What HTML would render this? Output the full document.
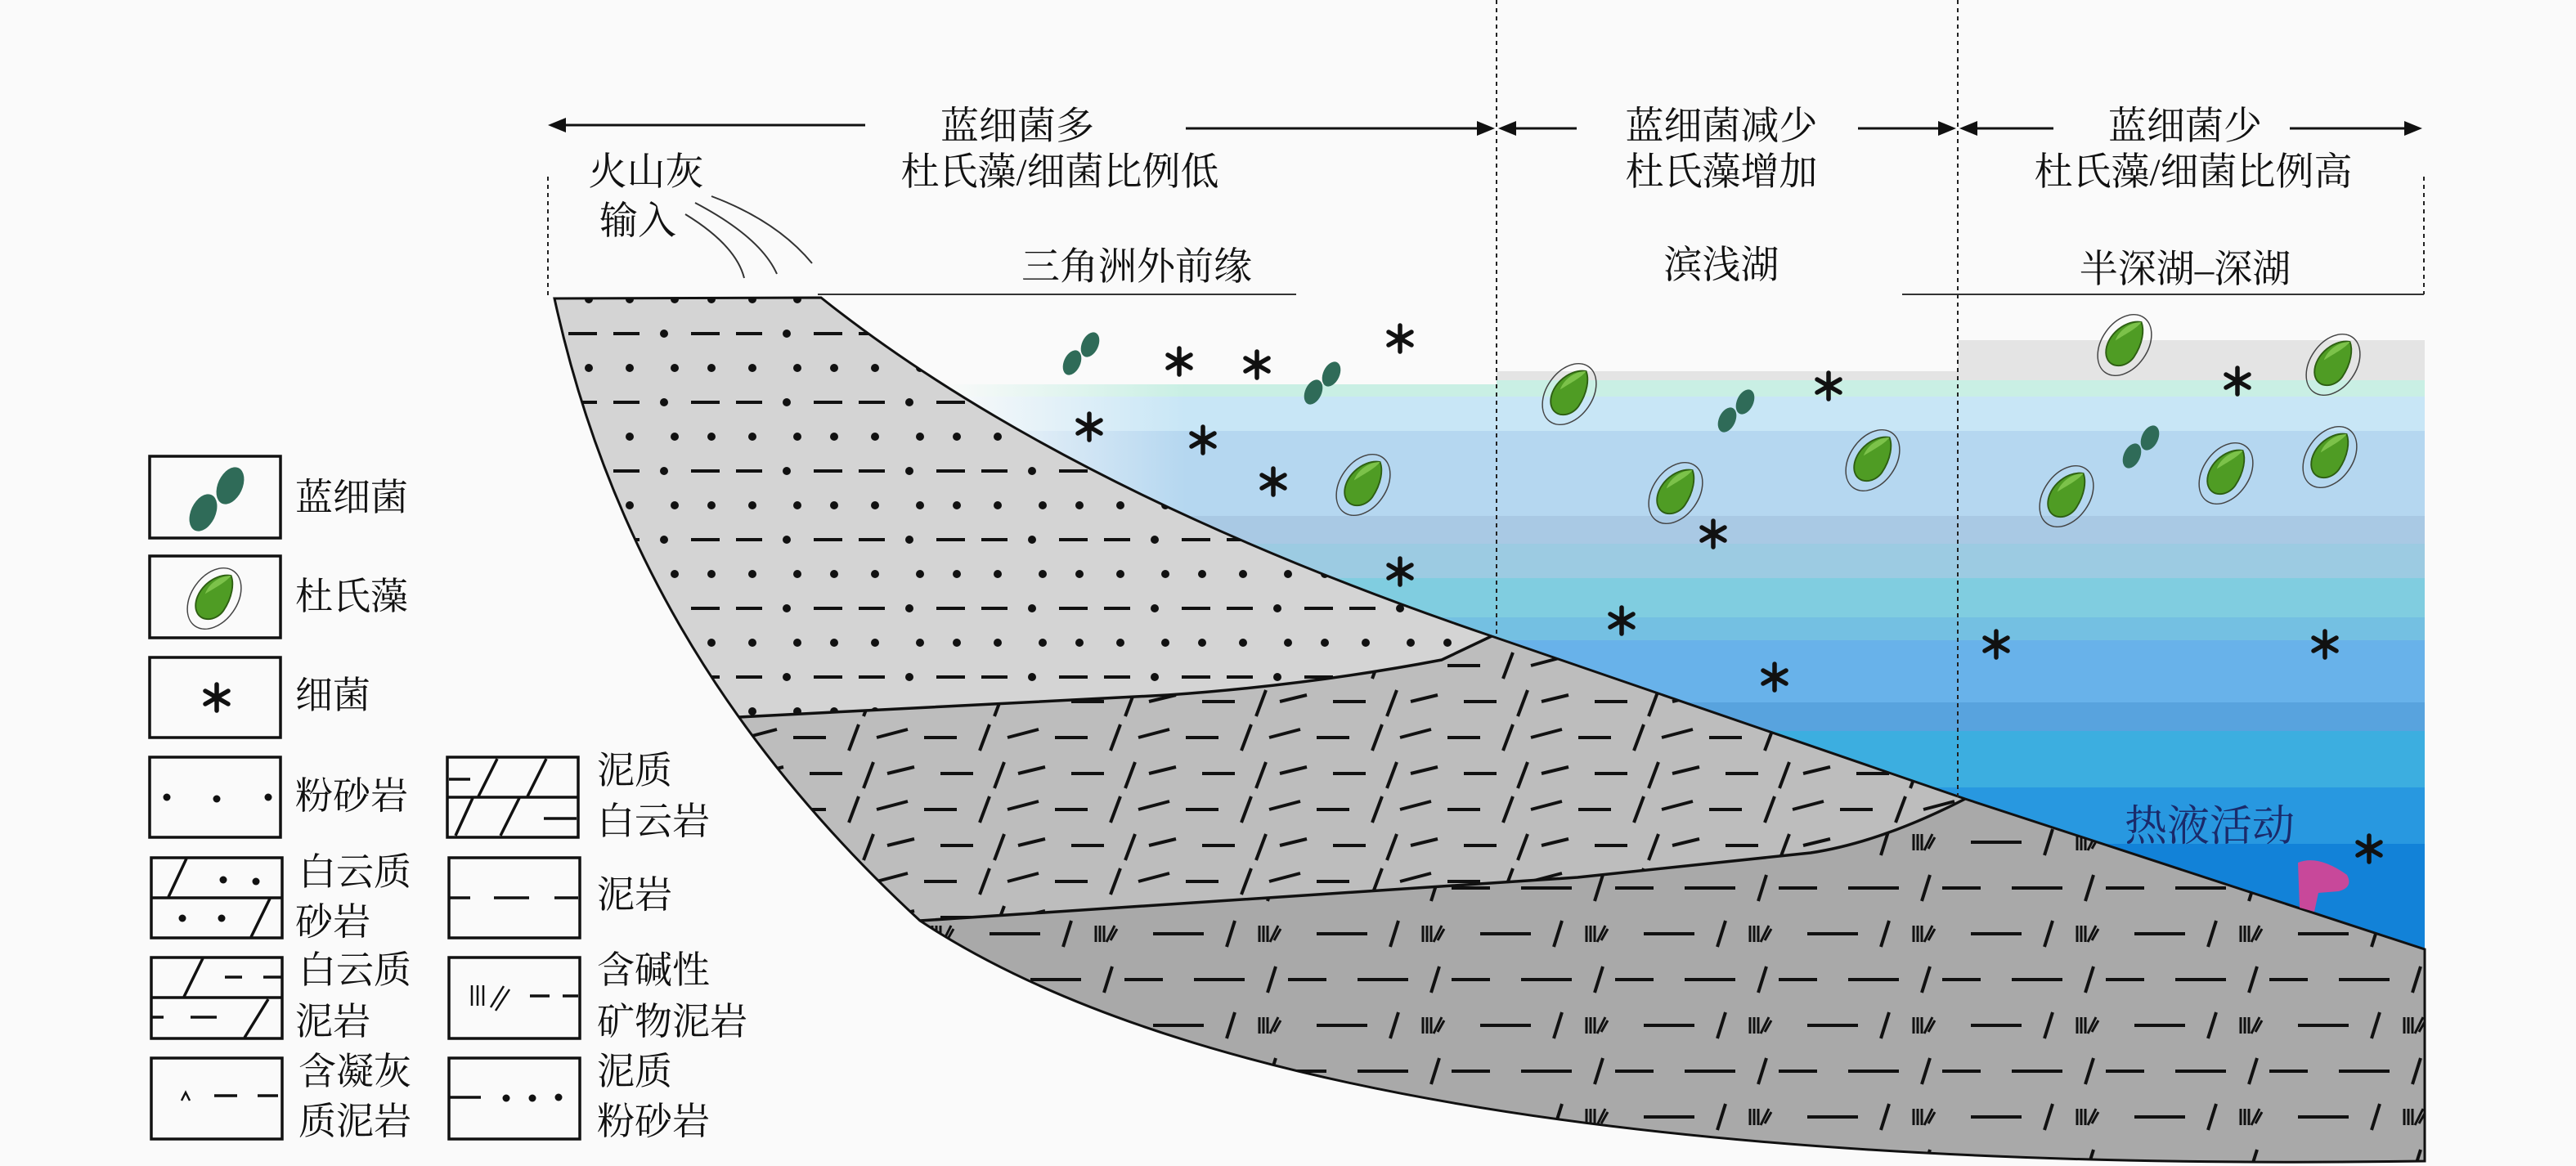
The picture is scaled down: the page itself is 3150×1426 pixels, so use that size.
<!DOCTYPE html>
<html><head><meta charset="utf-8"><style>
html,body{margin:0;padding:0;background:#fafafa;width:3150px;height:1426px;overflow:hidden;}
svg{display:block;}
text{font-family:"Liberation Serif","Noto Serif CJK SC","Noto Sans CJK SC",serif;fill:#111;}
</style></head><body>
<svg width="3150" height="1426" viewBox="0 0 3150 1426" xmlns="http://www.w3.org/2000/svg">
<defs>
<clipPath id="wedge"><path d="M678,365 L1004,364 Q1300,600 1824,778 L2403,977 L2965,1161 L2965,1420 Q1600,1440 1125,1126 C880,900 740,650 678,365 Z"/></clipPath>
<clipPath id="water"><path d="M1004,364 L2965,364 L2965,1161 L2403,977 L1824,778 Q1300,600 1004,364 Z"/></clipPath>
<linearGradient id="fade" x1="0" x2="1" y1="0" y2="0">
<stop offset="0" stop-color="#fafafa" stop-opacity="1"/><stop offset="1" stop-color="#fafafa" stop-opacity="0"/></linearGradient>
<pattern id="p1" patternUnits="userSpaceOnUse" width="150" height="84" x="0" y="10">
<g stroke="#111" stroke-width="4" fill="#111">
<circle cx="20" cy="20" r="5" stroke="none"/><circle cx="75" cy="20" r="5" stroke="none"/>
<circle cx="120" cy="20" r="5" stroke="none"/>
<line x1="0" y1="62" x2="32" y2="62"/><circle cx="62" cy="62" r="5" stroke="none"/>
<line x1="95" y1="62" x2="130" y2="62"/>
</g></pattern>
<pattern id="p2" patternUnits="userSpaceOnUse" width="160" height="88" x="0" y="0">
<g stroke="#111" stroke-width="4">
<line x1="10" y1="22" x2="50" y2="22"/><line x1="78" y1="38" x2="90" y2="6"/>
<line x1="112" y1="22" x2="150" y2="12"/>
<line x1="30" y1="66" x2="70" y2="66"/><line x1="96" y1="84" x2="108" y2="52"/>
<line x1="125" y1="66" x2="158" y2="58"/>
</g></pattern>
<pattern id="p3" patternUnits="userSpaceOnUse" width="200" height="112" x="0" y="0">
<g stroke="#111" stroke-width="4">
<line x1="10" y1="22" x2="72" y2="22"/><line x1="100" y1="38" x2="110" y2="6"/>
<g stroke-width="3"><line x1="140" y1="12" x2="140" y2="32"/><line x1="145" y1="12" x2="145" y2="32"/><line x1="150" y1="12" x2="150" y2="32"/>
<line x1="153" y1="32" x2="163" y2="12"/><line x1="158" y1="30" x2="166" y2="16"/></g>
<line x1="60" y1="78" x2="122" y2="78"/><line x1="150" y1="94" x2="160" y2="62"/>
<line x1="0" y1="78" x2="22" y2="78"/><line x1="175" y1="78" x2="200" y2="78"/>
</g></pattern>
<symbol id="dun" viewBox="-45 -50 90 100" overflow="visible">
<ellipse cx="0" cy="0" rx="30" ry="44" transform="rotate(35)" fill="none" stroke="#444" stroke-width="1.6"/>
<path d="M22,-30 C-2,-34 -28,-8 -24,14 C-20,32 2,30 12,16 C24,-2 26,-20 22,-30 Z" fill="#4f9c24" stroke="#2d5e12" stroke-width="2"/>
<path d="M22,-30 C6,-30 -8,-18 -12,-6 C4,-16 16,-22 22,-30 Z" fill="#7cc24a"/>
</symbol>
<symbol id="cya" viewBox="-30 -30 60 60" overflow="visible">
<ellipse cx="-11" cy="11" rx="10" ry="16" transform="rotate(25 -11 11)" fill="#2f6b58"/>
<ellipse cx="11" cy="-11" rx="10" ry="16" transform="rotate(25 11 -11)" fill="#2f6b58"/>
</symbol>
<symbol id="ast" viewBox="-20 -20 40 40" overflow="visible">
<g stroke="#111" stroke-width="5.5" stroke-linecap="round">
<line x1="0" y1="-16" x2="0" y2="16"/><line x1="-14" y1="-8" x2="14" y2="8"/><line x1="-14" y1="8" x2="14" y2="-8"/>
</g></symbol>
</defs>

<!-- water bands -->
<g clip-path="url(#water)">
<rect x="1150" y="416" width="1815" height="50" fill="#e4e4e4"/>
<rect x="1150" y="465" width="1815" height="21" fill="#c9efe4"/>
<rect x="1150" y="485" width="1815" height="43" fill="#c8e6f6"/>
<rect x="1150" y="527" width="1815" height="105" fill="#b5d7f0"/>
<rect x="1150" y="631" width="1815" height="35" fill="#a9c9e4"/>
<rect x="1150" y="665" width="1815" height="43" fill="#9ccbe2"/>
<rect x="1150" y="707" width="1815" height="49" fill="#80cde0"/>
<rect x="1150" y="755" width="1815" height="29" fill="#74c0e2"/>
<rect x="1150" y="783" width="1815" height="77" fill="#68b2ea"/>
<rect x="1150" y="859" width="1815" height="36" fill="#58a3de"/>
<rect x="1150" y="894" width="1815" height="70" fill="#3caee0"/>
<rect x="1150" y="963" width="1815" height="70" fill="#2898e0"/>
<rect x="1150" y="1032" width="1815" height="132" fill="#1282d8"/>
<rect x="1150" y="400" width="680" height="70" fill="#fafafa"/>
<rect x="1830" y="400" width="564" height="54" fill="#fafafa"/>
<rect x="1150" y="400" width="300" height="500" fill="url(#fade)"/>
</g>

<!-- wedge layers -->
<g clip-path="url(#wedge)">
<rect x="600" y="300" width="2400" height="1200" fill="#a9a9a9"/>
<rect x="600" y="300" width="2400" height="1200" fill="url(#p3)"/>
<path d="M500,860 L883,878 L1428,850 Q1600,838 1763,807 L1824,778 L2403,977 Q2300,1030 2214,1043 L1929,1073 L1125,1126 L500,1135 Z" fill="#bdbdbd"/>
<path d="M500,860 L883,878 L1428,850 Q1600,838 1763,807 L1824,778 L2403,977 Q2300,1030 2214,1043 L1929,1073 L1125,1126 L500,1135 Z" fill="url(#p2)"/>
<path d="M500,300 L1004,300 L1004,364 Q1300,600 1824,778 L1763,807 Q1600,838 1428,850 L883,878 L500,880 Z" fill="#d4d4d4"/>
<path d="M500,300 L1004,300 L1004,364 Q1300,600 1824,778 L1763,807 Q1600,838 1428,850 L883,878 L500,880 Z" fill="url(#p1)"/>
<g fill="none" stroke="#111" stroke-width="3.5">
<path d="M883,878 L1428,850 Q1600,838 1763,807 L1824,778"/>
<path d="M1125,1126 L1929,1073 L2214,1043 Q2300,1030 2403,977"/>
</g>
</g>
<path d="M678,365 L1004,364 Q1300,600 1824,778 L2403,977 L2965,1161 L2965,1420 Q1600,1440 1125,1126 C880,900 740,650 678,365 Z" fill="none" stroke="#111" stroke-width="3"/>

<!-- dotted verticals -->
<g stroke="#222" stroke-width="2" stroke-dasharray="5,5" fill="none">
<line x1="670" y1="216" x2="670" y2="364"/>
<line x1="1830" y1="0" x2="1830" y2="778"/>
<line x1="2394" y1="0" x2="2394" y2="977"/>
<line x1="2964" y1="216" x2="2964" y2="360"/>
</g>

<!-- arrows -->
<g stroke="#111" stroke-width="3">
<line x1="680" y1="153" x2="1058" y2="153"/>
<line x1="1450" y1="157" x2="1815" y2="157"/>
<line x1="1843" y1="157" x2="1928" y2="157"/>
<line x1="2272" y1="157" x2="2383" y2="157"/>
<line x1="2405" y1="157" x2="2511" y2="157"/>
<line x1="2800" y1="157" x2="2952" y2="157"/>
</g>
<g fill="#111">
<polygon points="670,153 692,144 692,162"/>
<polygon points="1828,157 1806,148 1806,166"/>
<polygon points="1832,157 1854,148 1854,166"/>
<polygon points="2392,157 2370,148 2370,166"/>
<polygon points="2396,157 2418,148 2418,166"/>
<polygon points="2962,157 2940,148 2940,166"/>
</g>

<!-- header text -->
<g font-size="47" text-anchor="middle">
<text x="1244" y="170">蓝细菌多</text>
<text x="1296" y="226">杜氏藻/细菌比例低</text>
<text x="2105" y="170">蓝细菌减少</text>
<text x="2105" y="226">杜氏藻增加</text>
<text x="2672" y="170">蓝细菌少</text>
<text x="2682" y="226">杜氏藻/细菌比例高</text>
<text x="790" y="226">火山灰</text>
<text x="780" y="286">输入</text>
<text x="1390" y="342">三角洲外前缘</text>
<text x="2105" y="340">滨浅湖</text>
<text x="2672" y="345">半深湖–深湖</text>
</g>
<g stroke="#333" stroke-width="2" fill="none">
<line x1="1000" y1="360" x2="1585" y2="360"/>
<line x1="2326" y1="360" x2="2964" y2="360"/>
<path d="M838,262 Q900,300 910,340"/>
<path d="M850,248 Q930,290 950,335"/>
<path d="M870,240 Q950,270 993,322"/>
</g>

<!-- organisms -->
<g>
<use href="#cya" x="1292" y="400" width="60" height="65"/>
<use href="#cya" x="1587" y="436" width="60" height="65"/>
<use href="#cya" x="2093" y="470" width="60" height="65"/>
<use href="#cya" x="2588" y="514" width="60" height="65"/>
<use href="#dun" x="1877" y="435" width="84" height="94"/>
<use href="#dun" x="2248" y="516" width="84" height="94"/>
<use href="#dun" x="2007" y="556" width="84" height="94"/>
<use href="#dun" x="1625" y="546" width="84" height="94"/>
<use href="#dun" x="2556" y="375" width="84" height="94"/>
<use href="#dun" x="2811" y="399" width="84" height="94"/>
<use href="#dun" x="2485" y="560" width="84" height="94"/>
<use href="#dun" x="2680" y="532" width="84" height="94"/>
<use href="#dun" x="2807" y="512" width="84" height="94"/>
<use href="#ast" x="1422" y="422" width="40" height="40"/>
<use href="#ast" x="1517" y="426" width="40" height="40"/>
<use href="#ast" x="1692" y="394" width="40" height="40"/>
<use href="#ast" x="1312" y="502" width="40" height="40"/>
<use href="#ast" x="1451" y="518" width="40" height="40"/>
<use href="#ast" x="1537" y="569" width="40" height="40"/>
<use href="#ast" x="1692" y="679" width="40" height="40"/>
<use href="#ast" x="2216" y="452" width="40" height="40"/>
<use href="#ast" x="2075" y="633" width="40" height="40"/>
<use href="#ast" x="1963" y="739" width="40" height="40"/>
<use href="#ast" x="2150" y="808" width="40" height="40"/>
<use href="#ast" x="2716" y="446" width="40" height="40"/>
<use href="#ast" x="2421" y="768" width="40" height="40"/>
<use href="#ast" x="2823" y="768" width="40" height="40"/>
<use href="#ast" x="2877" y="1018" width="40" height="40"/>
</g>
<text x="2598" y="1028" font-size="52" style="fill:#1a2a6a">热液活动</text>
<path d="M2810,1055 Q2835,1045 2870,1070 Q2878,1085 2860,1090 L2835,1092 L2830,1115 L2812,1110 Z" fill="#c8489a"/>

<!-- legend boxes -->
<g fill="none" stroke="#111" stroke-width="3.5">
<rect x="183" y="558" width="160" height="100"/>
<rect x="183" y="680" width="160" height="100"/>
<rect x="183" y="804" width="160" height="98"/>
<rect x="183" y="926" width="160" height="98"/>
<rect x="185" y="1049" width="160" height="98"/>
<rect x="185" y="1171" width="160" height="99"/>
<rect x="185" y="1294" width="160" height="99"/>
<rect x="547" y="926" width="160" height="98"/>
<rect x="549" y="1049" width="160" height="98"/>
<rect x="549" y="1171" width="160" height="99"/>
<rect x="549" y="1294" width="160" height="99"/>
</g>
<use href="#cya" x="220" y="563" width="90" height="95"/>
<use href="#dun" x="220" y="685" width="84" height="94"/>
<use href="#ast" x="245" y="833" width="40" height="40"/>
<g stroke="#111" stroke-width="3.5" fill="#111">
<circle cx="204" cy="975" r="4.5" stroke="none"/><circle cx="265" cy="977" r="4.5" stroke="none"/><circle cx="328" cy="975" r="4.5" stroke="none"/>
<line x1="185" y1="1098" x2="345" y2="1098"/>
<line x1="228" y1="1050" x2="206" y2="1097"/><line x1="330" y1="1099" x2="307" y2="1146"/>
<circle cx="273" cy="1076" r="4.5" stroke="none"/><circle cx="313" cy="1078" r="4.5" stroke="none"/>
<circle cx="223" cy="1123" r="4.5" stroke="none"/><circle cx="271" cy="1123" r="4.5" stroke="none"/>
<line x1="185" y1="1220" x2="345" y2="1220"/>
<line x1="248" y1="1172" x2="225" y2="1219"/><line x1="275" y1="1195" x2="296" y2="1195"/><line x1="322" y1="1195" x2="345" y2="1195"/>
<line x1="185" y1="1244" x2="200" y2="1244"/><line x1="233" y1="1244" x2="265" y2="1244"/><line x1="328" y1="1222" x2="299" y2="1269"/>
<path d="M222,1346 L227,1336 L232,1346" fill="none" stroke-width="2.5"/>
<line x1="262" y1="1340" x2="290" y2="1340"/><line x1="315" y1="1340" x2="340" y2="1340"/>
<line x1="547" y1="975" x2="707" y2="975"/>
<line x1="549" y1="953" x2="575" y2="953"/>
<line x1="608" y1="928" x2="585" y2="974"/><line x1="668" y1="928" x2="645" y2="974"/>
<line x1="578" y1="976" x2="557" y2="1022"/><line x1="635" y1="976" x2="612" y2="1022"/>
<line x1="665" y1="1001" x2="705" y2="1001"/>
<line x1="549" y1="1098" x2="575" y2="1098"/><line x1="604" y1="1098" x2="647" y2="1098"/><line x1="678" y1="1098" x2="707" y2="1098"/>
<g stroke-width="2.5"><line x1="577" y1="1205" x2="577" y2="1230"/><line x1="584" y1="1205" x2="584" y2="1230"/><line x1="591" y1="1205" x2="591" y2="1230"/>
<line x1="600" y1="1232" x2="616" y2="1206"/><line x1="606" y1="1236" x2="623" y2="1210"/></g>
<line x1="648" y1="1218" x2="672" y2="1218"/><line x1="688" y1="1218" x2="707" y2="1218"/>
<line x1="549" y1="1342" x2="588" y2="1342"/>
<circle cx="619" cy="1343" r="4.5" stroke="none"/><circle cx="651" cy="1343" r="4.5" stroke="none"/><circle cx="683" cy="1342" r="4.5" stroke="none"/>
</g>
<g font-size="46">
<text x="361" y="624">蓝细菌</text>
<text x="361" y="745">杜氏藻</text>
<text x="361" y="866">细菌</text>
<text x="361" y="989">粉砂岩</text>
<text x="365" y="1082">白云质</text>
<text x="361" y="1143">砂岩</text>
<text x="365" y="1202">白云质</text>
<text x="361" y="1265">泥岩</text>
<text x="365" y="1326">含凝灰</text>
<text x="365" y="1387">质泥岩</text>
<text x="730" y="958">泥质</text>
<text x="730" y="1020">白云岩</text>
<text x="730" y="1110">泥岩</text>
<text x="730" y="1202">含碱性</text>
<text x="730" y="1265">矿物泥岩</text>
<text x="730" y="1326">泥质</text>
<text x="730" y="1387">粉砂岩</text>
</g>
</svg>
</body></html>
